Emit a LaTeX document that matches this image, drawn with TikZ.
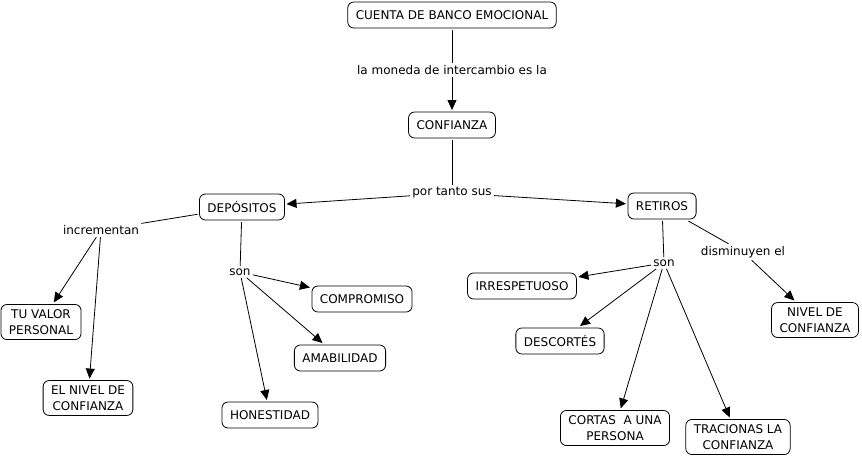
\documentclass[tikz,border=0pt]{standalone}
\usepackage{fontspec}
\setmainfont{DejaVu Sans}
\usetikzlibrary{positioning,arrows.meta}

\begin{document}
\begin{tikzpicture}[
x=1pt,y=-1pt,
line width=0.8pt,
concept/.style={rectangle,rounded corners=6pt,draw,align=center,inner xsep=8pt,inner ysep=5pt,minimum height=26pt,outer sep=2pt,font=\fontsize{12}{16}\selectfont},
phrase/.style={inner sep=2pt,font=\fontsize{12}{14.5}\selectfont},
arr/.style={-{Triangle[length=10pt,width=9pt]}}
]
\useasboundingbox (0,0) rectangle (862,459);
\node [concept] (cuenta) at (452,15) {CUENTA DE BANCO EMOCIONAL};
\node [phrase] (moneda) at (452,70) {la moneda de intercambio es la};
\node [concept] (conf) at (452,125) {CONFIANZA};
\node [phrase] (portanto) at (452,193) {por tanto sus};
\node [concept] (dep) at (242,207) {DEPÓSITOS};
\node [concept] (ret) at (662,206) {RETIROS};
\node [phrase] (incr) at (101,230) {incrementan};
\node [phrase] (son1) at (240,272) {son};
\node [concept] (valor) at (41,322) {TU VALOR\\PERSONAL};
\node [concept] (nivel1) at (88,398) {EL NIVEL DE\\CONFIANZA};
\node [concept] (comp) at (362,299) {COMPROMISO};
\node [concept] (amab) at (340,358) {AMABILIDAD};
\node [concept] (hon) at (270,415) {HONESTIDAD};
\node [phrase] (son2) at (664,263) {son};
\node [phrase] (dism) at (743,252) {disminuyen el};
\node [concept] (irr) at (522,286) {IRRESPETUOSO};
\node [concept] (desc) at (560,341) {DESCORTÉS};
\node [concept] (nivel2) at (815,320) {NIVEL DE\\CONFIANZA};
\node [concept] (cortas) at (615,428) {CORTAS~~A UNA\\PERSONA};
\node [concept] (trac) at (738,437) {TRACIONAS LA\\CONFIANZA};

\draw (cuenta) -- (moneda);
\draw [arr] (moneda) -- (conf);
\draw (conf) -- (portanto);
\draw [arr] (portanto) -- (dep);
\draw [arr] (portanto) -- (ret);
\draw (dep) -- (incr);
\draw [arr] (incr) -- (valor);
\draw [arr] (incr) -- (nivel1);
\draw (dep) -- (son1);
\draw [arr] (son1) -- (comp);
\draw [arr] (son1) -- (amab);
\draw [arr] (son1) -- (hon);
\draw (ret) -- (son2);
\draw [arr] (son2) -- (irr);
\draw [arr] (son2) -- (desc);
\draw [arr] (son2) -- (cortas);
\draw [arr] (son2) -- (trac);
\draw (ret) -- (dism);
\draw [arr] (dism) -- (nivel2);
\end{tikzpicture}
\end{document}
